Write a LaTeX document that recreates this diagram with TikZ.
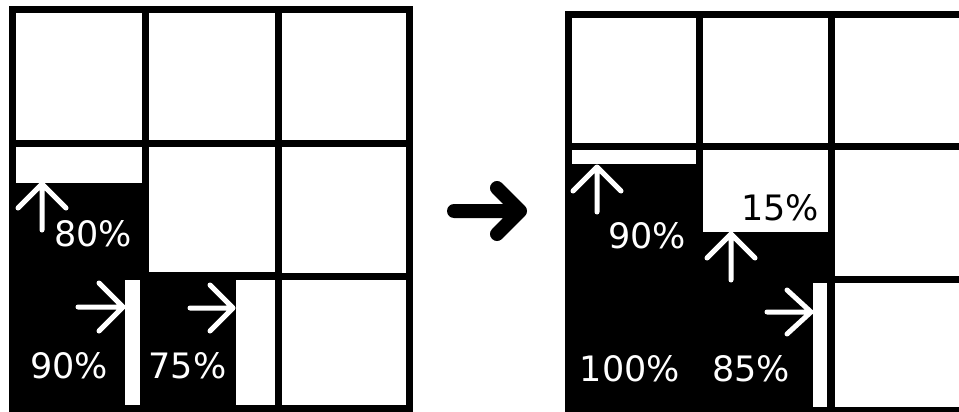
\documentclass[tikz,border=0pt]{standalone}
\usepackage{fontspec}
\setmainfont{DejaVu Sans}
\begin{document}
\begin{tikzpicture}[x=1pt,y=-1pt,
  gridline/.style={line width=7pt,black,line join=miter,line cap=rect},
  warrow/.style={white,line width=5pt,line cap=round,line join=round},
  bigarrow/.style={black,line width=14pt,line cap=round,line join=round},
  pct/.style={white,anchor=base,inner sep=0pt,font=\fontsize{35}{40}\selectfont},
  pctdark/.style={pct,black}]
\useasboundingbox[fill=white] (0,0) rectangle (959,412);
% ---------- left grid ----------
\fill[black] (9,140) rectangle (149,412.5);
\fill[black] (140,272) rectangle (278,412.5);
\fill[white] (16,146.5) rectangle (142,183);
\fill[white] (125,279.5) rectangle (140,405);
\fill[white] (236,279.5) rectangle (274.5,405);
\draw[gridline] (12.5,9.5) rectangle (409.5,408.7);
\draw[gridline] (145.5,9.5) -- (145.5,408.7);
\draw[gridline] (278,9.5) -- (278,408.7);
\draw[gridline] (12.5,143) -- (409.5,143);
\draw[gridline] (12.5,276) -- (409.5,276);
% arrows left
\draw[warrow] (42,230) -- (42,184) (18,208) -- (42,184) -- (66,208);
\draw[warrow] (78,307) -- (123,307) (99,283) -- (123,307) -- (99,331);
\draw[warrow] (190,308) -- (233,308) (210,285) -- (233,308) -- (210,331);
\node[pct] (l80) at (93,246) {80\%};
\node[pct] (l90) at (69,378) {90\%};
\node[pct] (l75) at (187.5,378) {75\%};
% ---------- middle arrow ----------
\draw[bigarrow] (454,211) -- (520,211) (497,188) -- (520,211) -- (497,234);
% ---------- right grid ----------
\fill[black] (564.5,143) rectangle (835,413);
\fill[white] (571.5,149.8) rectangle (695.5,164);
\fill[white] (702.5,149.8) rectangle (828,232);
\fill[white] (813,283) rectangle (827,406.5);
\draw[gridline] (959,15) -- (568,15) -- (568,410) -- (959,410);
\draw[gridline] (699,15) -- (699,410);
\draw[gridline] (831.5,15) -- (831.5,410);
\draw[gridline] (568,146.3) -- (959,146.3);
\draw[gridline] (568,279) -- (959,279);
% arrows right
\draw[warrow] (597,212) -- (597,167) (573,191) -- (597,167) -- (621,191);
\draw[warrow] (731,280) -- (731,234) (707,258) -- (731,234) -- (755,258);
\draw[warrow] (767,312) -- (811,312) (787,290) -- (811,312) -- (787,334);
\node[pct] (r90) at (647,248) {90\%};
\node[pctdark] (r15) at (780,220) {15\%};
\node[pct] (r100) at (630,381) {100\%};
\node[pct] (r85) at (751,381) {85\%};
\end{tikzpicture}
\end{document}
